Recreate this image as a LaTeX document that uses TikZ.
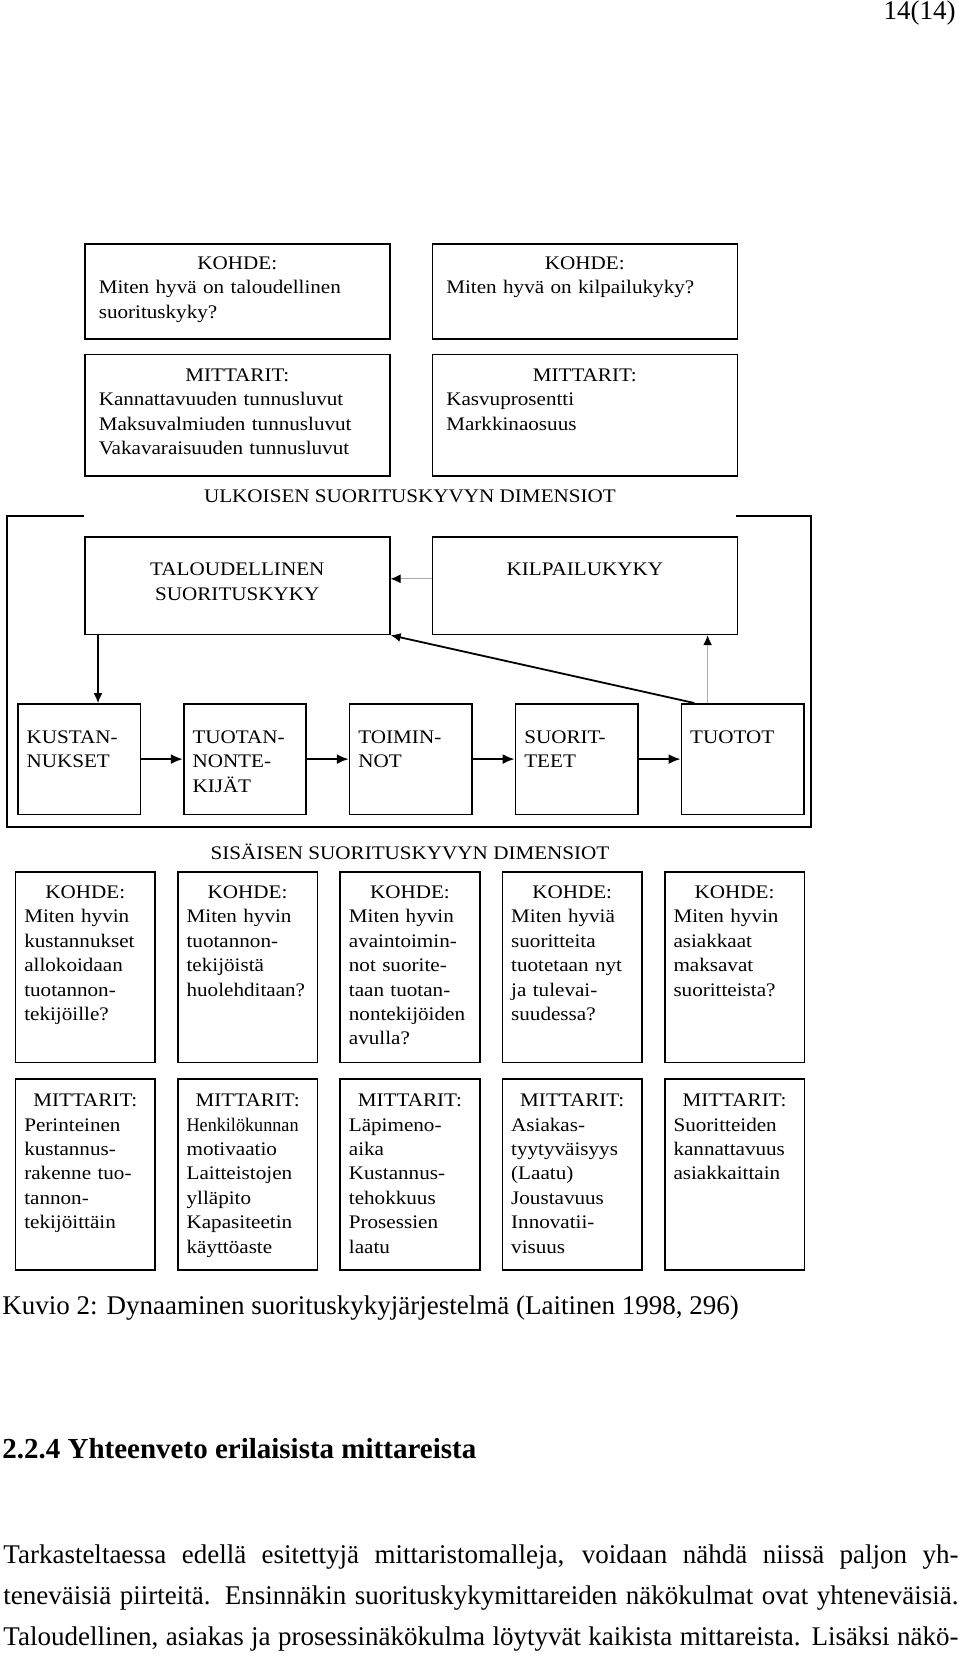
\documentclass[tikz,border=0pt]{standalone}
\usepackage{fontspec}
\setmainfont{Liberation Serif}
\newfontfamily\kuvaserif[FakeStretch=1.1]{Liberation Serif}
\usepackage{graphicx}
\usepackage{tikz}
\usetikzlibrary{positioning, arrows.meta}
\hyphenpenalty=10000
\exhyphenpenalty=10000
\newcommand\kuvafont{\kuvaserif\fontsize{9.6}{12.2}\selectfont}
\newcommand\sivufont{\fontsize{13.5}{16}\selectfont}
\newcommand\keskelle[1]{\makebox[\linewidth]{#1}}
\tikzset{
  extbox/.style={draw, line width=0.8pt, font=\kuvafont, inner xsep=7pt, inner ysep=0pt, text width=138.5pt, align=left, text height=12.8pt, text depth=34.7pt},
  extmeas/.style={extbox, text height=13.5pt, text depth=47.2pt},
  dimbox/.style={extbox, align=center, text height=19.5pt, text depth=29.3pt},
  flowbox/.style={draw, line width=0.8pt, font=\kuvafont, inner xsep=4.4pt, inner ysep=0pt, text width=52.45pt, align=left, text height=19.8pt, text depth=35.5pt},
  intbox/.style={draw, line width=0.8pt, font=\kuvafont, inner xsep=4.4pt, inner ysep=0pt, text width=61pt, align=left, text height=13.3pt, text depth=82pt},
  intmeas/.style={intbox, text height=13.8pt, text depth=81.7pt},
  dimtitle/.style={font=\kuvafont, inner sep=0pt},
  arr/.style={line width=0.6pt, -{Latex[length=5pt, width=4.5pt]}},
  grayarr/.style={arr, draw=gray!65, -{Latex[length=5pt, width=4.5pt, color=black]}},
  thickarr/.style={line width=1.1pt, -{Latex[length=6pt, width=5pt]}},
  pagetxt/.style={font=\sivufont, inner sep=0pt}
}
\begin{document}
\begin{tikzpicture}[x=0.5pt, y=-0.5pt]
  \useasboundingbox (0,0) rectangle (960,1665);

  \node[pagetxt, anchor=base east] (sivunro) at (956,19) {14(14)};

  \node[extbox, anchor=north west] (kohdeTal) at (84,243) {\keskelle{KOHDE:}\\Miten hyvä on taloudellinen\\suorituskyky?};
  \node[extbox, right=20.45pt of kohdeTal] (kohdeKil) {\keskelle{KOHDE:}\\Miten hyvä on kilpailukyky?};
  \node[extmeas, below=7pt of kohdeTal] (mittTal) {\keskelle{MITTARIT:}\\Kannattavuuden tunnusluvut\\Maksuvalmiuden tunnusluvut\\Vakavaraisuuden tunnusluvut};
  \node[extmeas, below=7pt of kohdeKil] (mittKil) {\keskelle{MITTARIT:}\\Kasvuprosentti\\Markkinaosuus};

  \node[dimtitle] (ulkoiset) at (410,496) {ULKOISEN SUORITUSKYVYN DIMENSIOT};
  \draw[line width=0.8pt] (84,516) -- (7,516) -- (7,827) -- (811,827) -- (811,516) -- (736,516);

  \node[dimbox, anchor=north west] (tal) at (84,536) {TALOUDELLINEN\\SUORITUSKYKY};
  \node[dimbox, right=20.45pt of tal] (kil) {KILPAILUKYKY};

  \node[flowbox, anchor=north west] (kust) at (17,703) {KUSTAN-\\NUKSET};
  \node[flowbox, right=20.9pt of kust] (tekijat) {TUOTAN-\\NONTE-\\KIJÄT};
  \node[flowbox, right=20.9pt of tekijat] (toiminnot) {TOIMIN-\\NOT};
  \node[flowbox, right=20.9pt of toiminnot] (suoritteet) {SUORIT-\\TEET};
  \node[flowbox, right=20.9pt of suoritteet] (tuotot) {TUOTOT};

  \draw[arr] ([xshift=7pt]tal.south west) -- ([xshift=7pt]tal.south west |- kust.north);
  \draw[grayarr] ([yshift=3.4pt]kil.west) -- ([yshift=3.4pt]tal.east);
  \draw[arr, line width=0.9pt] ([xshift=6.8pt]tuotot.north west) -- (tal.south east);
  \draw[grayarr] ([xshift=13.5pt]tuotot.north west) -- ([xshift=13.5pt]tuotot.north west |- kil.south);
  \draw[thickarr] (kust) -- (tekijat);
  \draw[thickarr] (tekijat) -- (toiminnot);
  \draw[thickarr] (toiminnot) -- (suoritteet);
  \draw[thickarr] (suoritteet) -- (tuotot);

  \node[dimtitle] (sisaiset) at (410,852) {SISÄISEN SUORITUSKYVYN DIMENSIOT};

  \node[intbox, anchor=north west] (kohde1) at (14.7,871) {\keskelle{KOHDE:}\\Miten hyvin\\kustannukset\\allokoidaan\\tuotannon-\\tekijöille?};
  \node[intbox, right=10.55pt of kohde1] (kohde2) {\keskelle{KOHDE:}\\Miten hyvin\\tuotannon-\\tekijöistä\\huolehditaan?};
  \node[intbox, right=10.55pt of kohde2] (kohde3) {\keskelle{KOHDE:}\\Miten hyvin\\avaintoimin-\\not suorite-\\taan tuotan-\\nontekijöiden\\avulla?};
  \node[intbox, right=10.55pt of kohde3] (kohde4) {\keskelle{KOHDE:}\\Miten hyviä\\suoritteita\\tuotetaan nyt\\ja tulevai-\\suudessa?};
  \node[intbox, right=10.55pt of kohde4] (kohde5) {\keskelle{KOHDE:}\\Miten hyvin\\asiakkaat\\maksavat\\suoritteista?};

  \node[intmeas, anchor=north west] (mitt1) at (14.7,1078.3) {\keskelle{MITTARIT:}\\Perinteinen\\kustannus-\\rakenne tuo-\\tannon-\\tekijöittäin};
  \node[intmeas, right=10.55pt of mitt1] (mitt2) {\keskelle{MITTARIT:}\\\scalebox{0.86}[1]{Henkilökunnan}\\motivaatio\\Laitteistojen\\ylläpito\\Kapasiteetin\\käyttöaste};
  \node[intmeas, right=10.55pt of mitt2] (mitt3) {\keskelle{MITTARIT:}\\Läpimeno-\\aika\\Kustannus-\\tehokkuus\\Prosessien\\laatu};
  \node[intmeas, right=10.55pt of mitt3] (mitt4) {\keskelle{MITTARIT:}\\Asiakas-\\tyytyväisyys\\(Laatu)\\Joustavuus\\Innovatii-\\visuus};
  \node[intmeas, right=10.55pt of mitt4] (mitt5) {\keskelle{MITTARIT:}\\Suoritteiden\\kannattavuus\\asiakkaittain};

  \node[pagetxt, anchor=base west] (kuvio) at (2,1314) {Kuvio 2: Dynaaminen suorituskykyjärjestelmä (Laitinen 1998, 296)};
  \node[pagetxt, font=\fontsize{14.5}{17}\selectfont\bfseries, anchor=base west] (luku) at (2,1458) {2.2.4 Yhteenveto erilaisista mittareista};
  \node[pagetxt, anchor=base west] (rivi1) at (3,1563) {\makebox[477.5pt][s]{Tarkasteltaessa edellä esitettyjä mittaristomalleja, voidaan nähdä niissä paljon yh-}};
  \node[pagetxt, anchor=base west] (rivi2) at (3,1604) {\makebox[477.5pt][s]{teneväisiä piirteitä. Ensinnäkin suorituskykymittareiden näkökulmat ovat yhteneväisiä.}};
  \node[pagetxt, anchor=base west] (rivi3) at (3,1645) {\makebox[477.5pt][s]{Taloudellinen, asiakas ja prosessinäkökulma löytyvät kaikista mittareista. Lisäksi näkö-}};
\end{tikzpicture}
\end{document}
